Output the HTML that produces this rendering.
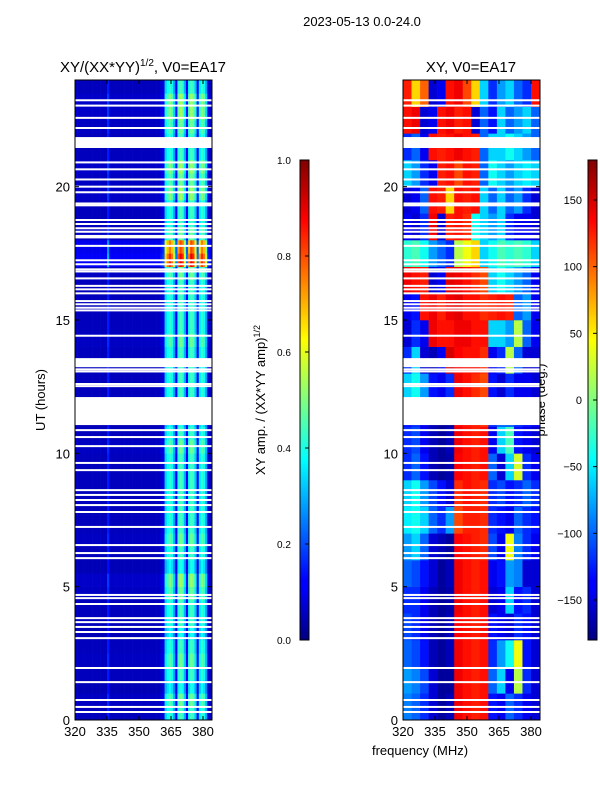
<!DOCTYPE html>
<html><head><meta charset="utf-8">
<style>
body{margin:0;background:#fff;}
svg text{font-family:"Liberation Sans",sans-serif;fill:#000;}
</style></head>
<body>
<svg id="fig" width="600" height="800" viewBox="0 0 600 800" xmlns="http://www.w3.org/2000/svg">
<defs>
<linearGradient id="jetg" x1="0" y1="1" x2="0" y2="0">
<stop offset="0" stop-color="#000080"/><stop offset="0.11" stop-color="#0000ff"/>
<stop offset="0.125" stop-color="#0000ff"/><stop offset="0.375" stop-color="#00ffff"/>
<stop offset="0.5" stop-color="#80ff80"/><stop offset="0.625" stop-color="#ffff00"/>
<stop offset="0.875" stop-color="#ff0000"/><stop offset="1" stop-color="#800000"/>
</linearGradient>
</defs>
<text x="362" y="26" font-size="13" text-anchor="middle">2023-05-13 0.0-24.0</text>
<text x="143" y="72" font-size="15" text-anchor="middle">XY/(XX*YY)<tspan font-size="10" dy="-6">1/2</tspan><tspan dy="6">, V0=EA17</tspan></text>
<text x="471" y="72" font-size="15" text-anchor="middle">XY, V0=EA17</text>
<text transform="translate(45,400) rotate(-90)" font-size="13" text-anchor="middle">UT (hours)</text>
<text x="420" y="755" font-size="13" text-anchor="middle">frequency (MHz)</text>
<text transform="translate(265,400) rotate(-90)" font-size="13" text-anchor="middle">XY amp. / (XX*YY amp)<tspan font-size="9" dy="-5">1/2</tspan></text>
<text transform="translate(545,400) rotate(-90)" font-size="13" text-anchor="middle">phase (deg.)</text>
<g id="ampPanel"></g>
<g id="phasePanel"></g>
<g id="axes"></g>
<rect x="300" y="160" width="9" height="480" fill="url(#jetg)" stroke="#000" stroke-width="1"/>
<rect x="588" y="160" width="9" height="480" fill="url(#jetg)" stroke="#000" stroke-width="1"/>
<g id="cbars"></g>
</svg>
<script>
const ampFreqs = [];for(let f=320;f<384;f++)ampFreqs.push(f);
const ampColProfile = [0.06,0.06,0.06,0.06,0.06,0.06,0.06,0.06,0.06,0.06,0.06,0.06,0.06,0.06,0.06,0.15,
0.06,0.06,0.06,0.06,0.06,0.06,0.06,0.06,0.06,0.06,0.06,0.06,0.06,0.06,0.06,0.06,
0.06,0.06,0.06,0.06,0.06,0.06,0.06,0.06,0.08,0.1,
0.33,0.38,0.42,0.38,0.28,0.12,0.4,0.45,0.42,0.3,0.12,0.38,0.45,0.42,0.32,0.12,0.36,0.42,0.38,0.28,0.08,0.06,0.06,0.06];
const ampRowFactor = [1,1.1,0.9,1,1.1,1,0.9,1,1,1.1,1.2,0.9,1,1.1,1,1,1,1,1,1,1.1,1,0.9,1,
1,1,1,1,1.1,1,1,1,1,1.1,2.0,1.8,1.1,1,1,1.2,1.1,1.2,1,1,1.1,1.2,1.2,1];
const phaseFreqs = [320,324,328,332,336,340,344,348,352,356,360,364,368,372,376,380];
const phaseGrid = [
[-90,-100,-120,-150,-170,-160,140,130,125,130,-130,-140,-100,-120,-140,-150],
[-80,-90,-110,-150,-170,-170,140,130,125,130,-100,-60,-140,20,-120,-150],
[-100,-110,-130,-160,-170,-160,140,130,125,130,-120,-80,-40,40,-130,-150],
[-110,-120,-140,-160,-170,-160,135,130,125,130,-130,-140,-150,-120,-130,-150],
[-120,-120,-140,-160,-170,-165,140,130,125,130,-150,-140,-60,-130,-120,-150],
[-100,-110,-130,-150,-170,-160,140,130,125,130,-140,-130,-80,-90,-150,-150],
[-80,-60,-100,-150,-160,-170,135,130,125,120,-110,-140,40,-90,-120,-140],
[-50,-40,-60,-100,-120,-80,110,125,125,120,-120,-130,-140,-100,-120,-130],
[-60,-40,-80,-110,-130,-150,120,130,125,120,-120,-110,-130,-120,-100,-120],
[-120,-100,-130,-160,-170,-165,135,130,125,130,-100,-150,-60,30,-120,-140],
[-120,-110,-140,-160,-170,-160,140,130,125,130,-140,-60,-20,-130,-140,-150],
[-130,-120,-140,-160,-170,-170,135,130,125,120,-120,-100,-100,-120,-130,-140],
[-60,-40,-80,-130,-140,-120,140,130,120,110,-130,-150,-120,-140,-140,-150],
[-120,-60,-150,-160,-140,150,135,130,130,120,-140,-120,20,-100,-150,-150],
[-150,-120,-140,140,130,130,140,140,130,130,-60,-60,-80,20,-100,-140],
[-140,-130,130,140,125,140,145,130,130,120,125,130,125,-100,-80,-140],
[140,130,125,-150,-140,145,140,130,120,110,-60,-40,-60,-80,-100,-140],
[-30,-20,-40,-80,-100,-120,20,40,60,-60,-40,-20,-30,-20,-30,-60],
[-140,-150,-120,140,-150,125,130,120,-40,-60,-80,-60,-120,-140,-140,-150],
[-150,-140,-100,130,125,60,130,125,130,-60,-100,-60,-100,-80,-120,-150],
[-60,-80,-120,-140,125,130,110,130,125,-100,-40,-60,-80,-60,-50,-60],
[-120,-100,-140,130,125,130,140,130,125,-100,-60,-60,-40,-60,-80,-100],
[130,140,-150,-140,130,140,125,130,-150,-100,-130,-60,-100,-80,-60,-100],
[125,60,100,-150,-140,130,140,110,60,-60,-120,-80,-60,-100,-120,130]];
const blankLines = [23.24,23.04,22.58,22.2,20.91,20.65,20.27,20.0,19.79,19.37,19.3,18.75,18.6,18.44,18.31,17.78,17.24,17.09,16.9,16.82,16.56,16.28,16.15,16.0,15.71,15.59,15.46,15.36,14.41,13.15,13.07,12.6,12.52,
10.87,10.61,10.27,9.64,9.37,8.62,8.44,8.25,8.06,7.8,7.24,6.56,6.26,6.07,4.69,4.57,4.35,3.82,3.67,3.49,3.3,3.07,1.95,1.42,0.75,0.49,0.3];
const blankGapStart = [11.06,13.23,18.06,21.45];
const blankGapEnd = [12.11,13.57,18.19,21.86];
const xTicks = [320,335,350,365,380];
const yTicks = [0,5,10,15,20];
const ampCbTicks = [0,0.2,0.4,0.6,0.8,1.0];
const phaseCbTicks = [-150,-100,-50,0,50,100,150];

const NS="http://www.w3.org/2000/svg";
const PW=137, TOP=80, BOT=720;
function xS(f,x0){return x0+(f-320)*32/15;}
function yS(h){return BOT-h*(BOT-TOP)/24;}
function jet(t){t=Math.max(0,Math.min(1,t));const c=v=>Math.round(255*Math.max(0,Math.min(1,v)));
return `rgb(${c(1.5-Math.abs(4*t-3))},${c(1.5-Math.abs(4*t-2))},${c(1.5-Math.abs(4*t-1))})`;}
function mk(tag,attrs,parent){const e=document.createElementNS(NS,tag);for(const k in attrs)e.setAttribute(k,attrs[k]);parent.appendChild(e);return e;}

const ampG=document.getElementById('ampPanel');
for(let r=0;r<ampRowFactor.length;r++){
  for(let c=0;c<ampFreqs.length;c++){
    const v=ampColProfile[c]*ampRowFactor[r];
    const x0=xS(ampFreqs[c],75), x1=xS(ampFreqs[c]+1,75);
    const el=mk('rect',{x:x0,y:yS((r+1)*0.5),width:x1-x0+0.3,height:yS(r*0.5)-yS((r+1)*0.5)+0.3,fill:jet(v)},ampG);
    
    
  }
}
const phG=document.getElementById('phasePanel');
for(let r=0;r<phaseGrid.length;r++){
  for(let c=0;c<phaseFreqs.length;c++){
    const v=phaseGrid[r][c];
    const x0=xS(phaseFreqs[c],403), x1=xS(phaseFreqs[c]+4,403);
    const el=mk('rect',{x:x0,y:yS(r+1),width:Math.min(x1,540)-x0+0.3,height:yS(r)-yS(r+1)+0.3,fill:jet((v+180)/360)},phG);
    
    
  }
}
const ax=document.getElementById('axes');
[75,403].forEach(x0=>{
  blankLines.forEach(h=>{
    const el=mk('rect',{x:x0,y:yS(h)-1,width:PW,height:2,fill:'#fff'},ax);
    
    
  });
  blankGapStart.forEach((h,i)=>{
    const el=mk('rect',{x:x0,y:yS(blankGapEnd[i]),width:PW,height:yS(h)-yS(blankGapEnd[i]),fill:'#fff'},ax);
    
    
  });
  const fr=mk('rect',{x:x0,y:TOP,width:PW,height:BOT-TOP,fill:'none',stroke:'#000','stroke-width':1},ax);
  
  
  xTicks.forEach(t=>{
    const x=xS(t,x0);
    mk('line',{x1:x,x2:x,y1:BOT,y2:BOT-4,stroke:'#000'},ax);
    mk('line',{x1:x,x2:x,y1:TOP,y2:TOP+4,stroke:'#000'},ax);
    const tx=mk('text',{x:x,y:BOT+16,'font-size':13,'text-anchor':'middle'},ax);
    tx.textContent=t;
    
    
  });
  yTicks.forEach(t=>{
    const y=yS(t);
    mk('line',{x1:x0,x2:x0+4,y1:y,y2:y,stroke:'#000'},ax);
    mk('line',{x1:x0+PW,x2:x0+PW-4,y1:y,y2:y,stroke:'#000'},ax);
    const tx=mk('text',{x:x0-5,y:y+5,'font-size':13,'text-anchor':'end'},ax);
    tx.textContent=t;
    
    
  });
});
const cb=document.getElementById('cbars');
ampCbTicks.forEach(t=>{
  const y=640-t*480;
  mk('line',{x1:305,x2:309,y1:y,y2:y,stroke:'#000'},cb);
  const tx=mk('text',{x:277,y:y+4,'font-size':10},cb);
  tx.textContent=t.toFixed(1);
  
  
});
phaseCbTicks.forEach(t=>{
  const y=400-t*480/360;
  mk('line',{x1:593,x2:597,y1:y,y2:y,stroke:'#000'},cb);
  const tx=mk('text',{x:582,y:y+4,'font-size':11,'text-anchor':'end'},cb);
  tx.textContent=t<0?'\u2212'+(-t):t;
  
  
});
</script>
</body></html>
